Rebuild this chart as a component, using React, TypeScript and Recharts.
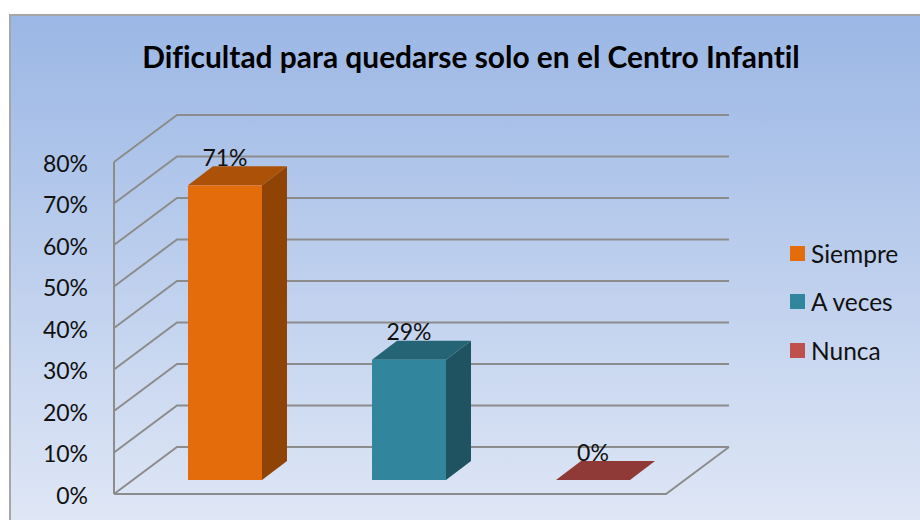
import React from "react";
import {Bar, BarChart, CartesianGrid, Legend, XAxis, YAxis} from "recharts";

const categories = ["Siempre", "A veces", "Nunca"];
const percentages = [71, 29, 0];
const yTicks = [0, 10, 20, 30, 40, 50, 60, 70, 80];

const frontColors = ["#e46c0a", "#31859c", "#c0504d"];
const topColors = ["#ab5208", "#256474", "#8f3a36"];
const sideColors = ["#8f4406", "#1f5362", "#7a302d"];

const FONT = "Lato, sans-serif";
const GRID = "#8c8c8c";

// how far the walls and the bars are pushed back in the fake 3D
const WALL_DX = 63;
const WALL_DY = -47;
const BAR_SHIFT_X = 19;
const BAR_SHIFT_Y = -14;
const BAR_DX = 25;
const BAR_DY = -19;

const data = categories.map((name, i) => ({name, value: percentages[i]}));

const Bar3D = ({x, y, width, height, index}: any) => {
  const left = x + BAR_SHIFT_X;
  const right = left + width;
  const top = y + BAR_SHIFT_Y;
  const bottom = top + height;

  return (
    <g>
      {height > 0 && (
        <path
          d={`M${right},${top} L${right + BAR_DX},${top + BAR_DY} L${right + BAR_DX},${bottom + BAR_DY} L${right},${bottom} Z`}
          fill={sideColors[index]}
        />
      )}
      <path
        d={`M${left},${top} L${left + BAR_DX},${top + BAR_DY} L${right + BAR_DX},${top + BAR_DY} L${right},${top} Z`}
        fill={topColors[index]}
      />
      {height > 0 && <rect x={left} y={top} width={width} height={height} fill={frontColors[index]} />}
    </g>
  );
};

const BarValue = ({x, y, width, value}: any) => (
  <text
    x={x + BAR_SHIFT_X + width / 2}
    y={y + BAR_SHIFT_Y - 28.5}
    textAnchor="middle"
    dominantBaseline="central"
    fontFamily={FONT}
    fontSize={23}
    fill="#111"
  >
    {`${value}%`}
  </text>
);

// each value draws the diagonal on the side wall and the line on the back wall
const WallLine = ({x1, x2, y1, index}: any) => (
  <g key={index} fill="none" stroke={GRID} strokeWidth={2}>
    <polyline points={`${x1},${y1} ${x1 + WALL_DX},${y1 + WALL_DY} ${x2 + WALL_DX},${y1 + WALL_DY}`} />
    {y1 > 490 && <polyline points={`${x1},${y1} ${x2},${y1} ${x2 + WALL_DX},${y1 + WALL_DY}`} />}
  </g>
);

const LegendBox = () => (
  <div style={{fontFamily: FONT, fontSize: 24.5, color: "#111"}}>
    {categories.map((name, i) => (
      <div key={name} style={{display: "flex", alignItems: "center", height: 48.5}}>
        <span style={{width: 15, height: 15, marginRight: 6, background: frontColors[i]}} />
        {name}
      </div>
    ))}
  </div>
);

const App = () => (
  <div
    style={{
      position: "absolute",
      left: 0,
      top: 0,
      width: 920,
      height: 520,
      overflow: "hidden",
      background: "#fff",
    }}
  >
    <div
      style={{
        position: "absolute",
        left: 9,
        top: 14,
        width: 920,
        height: 520,
        borderLeft: "2px solid #a6a6a6",
        borderTop: "2px solid #a6a6a6",
        background: "linear-gradient(180deg, #9bb7e5 0%, #e1e8f6 100%)",
      }}
    />
    <div
      style={{
        position: "absolute",
        left: 0,
        top: 38,
        width: 942,
        textAlign: "center",
        fontFamily: FONT,
        fontWeight: 700,
        fontSize: 29.9,
        fontVariantLigatures: "none",
        color: "#000",
      }}
    >
      Dificultad para quedarse solo en el Centro Infantil
    </div>
    <div style={{position: "absolute", left: 0, top: 0}}>
      <BarChart width={920} height={520} data={data} margin={{top: 162, right: 129, bottom: 26, left: 0}} barSize={74}>
        <CartesianGrid vertical={false} horizontal={(props: any) => <WallLine {...props} />} />
        <XAxis dataKey="name" hide />
        <YAxis
          width={114}
          domain={[0, 80]}
          ticks={yTicks}
          tickFormatter={(v: number) => `${v}%`}
          tick={{fontFamily: FONT, fontSize: 23, fill: "#111", dy: 1.5}}
          tickLine={false}
          tickSize={0}
          tickMargin={26}
          axisLine={{stroke: GRID, strokeWidth: 2}}
          interval={0}
        />
        <Legend
          layout="vertical"
          align="right"
          verticalAlign="top"
          content={<LegendBox />}
          wrapperStyle={{left: 790, top: 229, width: 125}}
        />
        <Bar dataKey="value" isAnimationActive={false} shape={<Bar3D />} label={<BarValue />} />
      </BarChart>
    </div>
  </div>
);

export default App;
